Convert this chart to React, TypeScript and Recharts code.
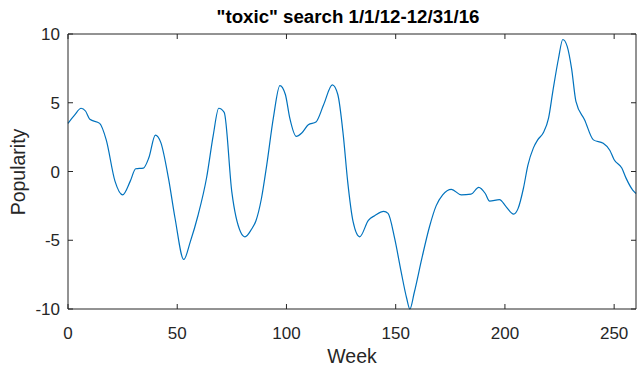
import { LineChart, Line, XAxis, YAxis, Label } from "recharts"

// weekly search popularity (centred), read at the turning points of the curve
const weeks = [
  0, 3, 6, 8, 10, 14.5, 17.5, 21.5, 25, 28.5, 31, 34.5, 37, 40, 42.5, 46, 49, 53, 56, 59.5,
  63.5, 66.5, 69, 71.5, 75, 79, 81, 84, 86, 88.5, 91, 94, 97, 99.5, 101.5, 104.5, 107, 110,
  113.5, 117, 121, 123.5, 126, 128, 130.5, 133.5, 137.5, 140.5, 144.5, 146.5, 149.5, 152.5,
  155, 156.5, 158.5, 162, 165.5, 168.5, 171.5, 175.5, 180, 184.5, 188, 191, 193, 197.5, 200.5,
  204, 206, 208.5, 210.5, 213, 215, 217.5, 220, 222, 224.5, 226.5, 228.5, 230.5, 232.5, 236.5,
  240.5, 245, 248, 250, 253.5, 255.5, 258.5, 260,
]
const popularity = [
  3.5, 4.1, 4.6, 4.4, 3.8, 3.5, 2.3, -0.7, -1.7, -0.7, 0.2, 0.25, 1.0, 2.65, 2.1, -0.5, -3.4, -6.4, -5.1, -3.2,
  -0.4, 2.65, 4.6, 4.3, -1.5, -4.4, -4.75, -4.2, -3.6, -2.0, 0.5, 3.9, 6.25, 5.6, 3.9, 2.55, 2.8, 3.4,
  3.6, 4.85, 6.3, 5.6, 2.65, -0.7, -3.65, -4.75, -3.55, -3.2, -2.9, -3.05, -4.85, -7.3,
  -9.2, -10, -8.8, -6.3, -4.0, -2.5, -1.7, -1.3, -1.7, -1.65, -1.15, -1.6, -2.15, -2.05, -2.55,
  -3.1, -2.7, -1.2, 0.45, 1.7, 2.3, 2.8, 3.9, 5.9, 8.2, 9.6, 9.1, 7.5, 5.1, 3.75,
  2.3, 2.05, 1.55, 0.85, 0.25, -0.5, -1.35, -1.6,
]
const xTicks = [0, 50, 100, 150, 200, 250]
const yTicks = [-10, -5, 0, 5, 10]

const data = weeks.map((week, i) => ({ week, value: popularity[i] }))

const FONT = "'Liberation Sans', Arial, Helvetica, sans-serif"
const INK = "#262626"
const TICK = 5
const axisLine = { stroke: INK, strokeWidth: 1 }

// MATLAB-style ticks point into the plot box
const BottomTick = (props: any) => {
  const { x, y, payload } = props
  const axisY = y - 18
  return (
    <g>
      <line x1={x} x2={x} y1={axisY} y2={axisY - TICK} stroke={INK} />
      <text x={x} y={y + 12} textAnchor="middle" fill={INK} fontSize={17} fontFamily={FONT}>
        {payload.value}
      </text>
    </g>
  )
}

const LeftTick = (props: any) => {
  const { x, y, payload } = props
  const axisX = x + 8
  return (
    <g>
      <line x1={axisX} x2={axisX + TICK} y1={y} y2={y} stroke={INK} />
      <text x={x} y={y + 6} textAnchor="end" fill={INK} fontSize={17} fontFamily={FONT}>
        {payload.value}
      </text>
    </g>
  )
}

const TopTick = (props: any) => {
  const { x, y } = props
  return <line x1={x} x2={x} y1={y} y2={y + TICK} stroke={INK} />
}

const RightTick = (props: any) => {
  const { x, y } = props
  return <line x1={x} x2={x - TICK} y1={y} y2={y} stroke={INK} />
}

export default function App() {
  return (
    <div style={{ position: "absolute", left: 0, top: 0, width: 639, height: 370, background: "#fff" }}>
      <div
        style={{
          position: "absolute",
          left: 0,
          top: 8,
          width: 696,
          textAlign: "center",
          fontFamily: FONT,
          fontWeight: "bold",
          fontSize: 18.7,
          lineHeight: 1,
          color: "#000",
          whiteSpace: "nowrap",
        }}
      >
        "toxic" search 1/1/12-12/31/16
      </div>
      <LineChart width={639} height={370} data={data} margin={{ top: 33, right: 0, bottom: 0, left: 0 }}>
        <XAxis
          dataKey="week"
          type="number"
          domain={[0, 260]}
          ticks={xTicks}
          interval={0}
          height={61}
          axisLine={axisLine}
          tickLine={false}
          tickSize={0}
          tickMargin={18}
          tick={<BottomTick />}
        >
          <Label value="Week" position="insideBottom" offset={7} fill={INK} fontSize={19.5} fontFamily={FONT} />
        </XAxis>
        <XAxis
          xAxisId="top"
          orientation="top"
          dataKey="week"
          type="number"
          domain={[0, 260]}
          ticks={xTicks}
          interval={0}
          height={1}
          axisLine={axisLine}
          tickLine={false}
          tickSize={0}
          tickMargin={0}
          tick={<TopTick />}
        />
        <YAxis
          type="number"
          domain={[-10, 10]}
          ticks={yTicks}
          interval={0}
          width={68}
          axisLine={axisLine}
          tickLine={false}
          tickSize={0}
          tickMargin={8}
          tick={<LeftTick />}
        >
          <Label
            content={() => (
              <text
                x={17.5}
                y={172}
                transform="rotate(-90 17.5 172)"
                textAnchor="middle"
                dominantBaseline="central"
                fill={INK}
                fontSize={19.5}
                fontFamily={FONT}
              >
                Popularity
              </text>
            )}
          />
        </YAxis>
        <YAxis
          yAxisId="right"
          orientation="right"
          type="number"
          domain={[-10, 10]}
          ticks={yTicks}
          interval={0}
          width={3}
          axisLine={axisLine}
          tickLine={false}
          tickSize={0}
          tickMargin={0}
          tick={<RightTick />}
        />
        <Line
          dataKey="value"
          type="monotone"
          stroke="#0072BD"
          strokeWidth={1.2}
          dot={false}
          activeDot={false}
          isAnimationActive={false}
        />
        {/* same series on the top/right axes so the box edges get drawn */}
        <Line
          xAxisId="top"
          yAxisId="right"
          dataKey="value"
          type="monotone"
          stroke="none"
          dot={false}
          activeDot={false}
          legendType="none"
          isAnimationActive={false}
        />
      </LineChart>
    </div>
  )
}
